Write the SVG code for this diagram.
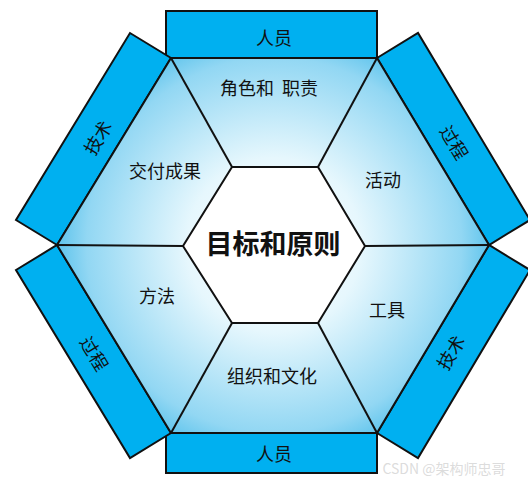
<svg xmlns="http://www.w3.org/2000/svg" width="528" height="485" viewBox="0 0 528 485">
<defs>
<radialGradient id="g" cx="274" cy="245" r="218" gradientUnits="userSpaceOnUse">
<stop offset="0" stop-color="#ffffff"/>
<stop offset="0.4" stop-color="#e6f7fd"/>
<stop offset="0.86" stop-color="#92d7f3"/>
<stop offset="1" stop-color="#5cc3ec"/>
</radialGradient>
<style>
.side{fill:#00b0f0;stroke:#111;stroke-width:2;stroke-linejoin:miter}
.ln{fill:none;stroke:#111;stroke-width:2}
.hex{stroke:#111;stroke-width:2;stroke-linejoin:miter}
.t{font-family:"Noto Sans CJK SC","Liberation Sans",sans-serif;font-size:18px;fill:#111;text-anchor:middle;dominant-baseline:central}
.big{font-size:27px;font-weight:bold}
.wm{font-family:"Noto Sans CJK SC","Liberation Sans",sans-serif;font-size:14px;fill:#d8d8d8;fill-opacity:0.9;text-anchor:middle;dominant-baseline:central}
</style>
</defs>
<g id="side-top"><rect class="side" x="166" y="11" width="211" height="47"/><text class="t" x="274" y="37">人员</text></g>
<g id="side-bottom"><rect class="side" x="166" y="433" width="211" height="40"/><text class="t" x="274" y="453">人员</text></g>
<g id="side-ul"><polygon class="side" points="171,58 57,245 16,220 130,33"/><text class="t" transform="translate(97,137) rotate(-58.6)">技术</text></g>
<g id="side-ur"><polygon class="side" points="377,58 489,245 530,220 418,33"/><text class="t" transform="translate(455,142) rotate(59)">过程</text></g>
<g id="side-lr"><polygon class="side" points="489,245 377,433 418,458 530,270"/><text class="t" transform="translate(450,352) rotate(-59)">技术</text></g>
<g id="side-ll"><polygon class="side" points="57,245 171,433 130,458 16,270"/><text class="t" transform="translate(95,353) rotate(58.6)">过程</text></g>
<g id="outer"><polygon class="hex" points="171,58 377,58 489,245 377,433 171,433 57,245" fill="url(#g)"/></g>
<g id="connectors">
<line class="ln" x1="232" y1="167" x2="171" y2="58"/>
<line class="ln" x1="318" y1="167" x2="377" y2="58"/>
<line class="ln" x1="183" y1="246" x2="57" y2="245"/>
<line class="ln" x1="365" y1="246" x2="489" y2="245"/>
<line class="ln" x1="232" y1="323" x2="171" y2="433"/>
<line class="ln" x1="318" y1="323" x2="377" y2="433"/>
</g>
<g id="center"><polygon class="hex" points="232,167 318,167 365,246 318,323 232,323 183,246" fill="#fff"/><text class="t big" x="273" y="242">目标和原则</text></g>
<g id="n-roles"><text class="t" x="269" y="87" xml:space="preserve">角色和  职责</text></g>
<g id="n-deliver"><text class="t" x="165" y="170">交付成果</text></g>
<g id="n-activity"><text class="t" x="383" y="179">活动</text></g>
<g id="n-method"><text class="t" x="157" y="295">方法</text></g>
<g id="n-tools"><text class="t" x="387" y="309">工具</text></g>
<g id="n-org"><text class="t" x="272" y="375">组织和文化</text></g>
<text class="wm" x="444" y="468">CSDN @架构师忠哥</text>
</svg>
